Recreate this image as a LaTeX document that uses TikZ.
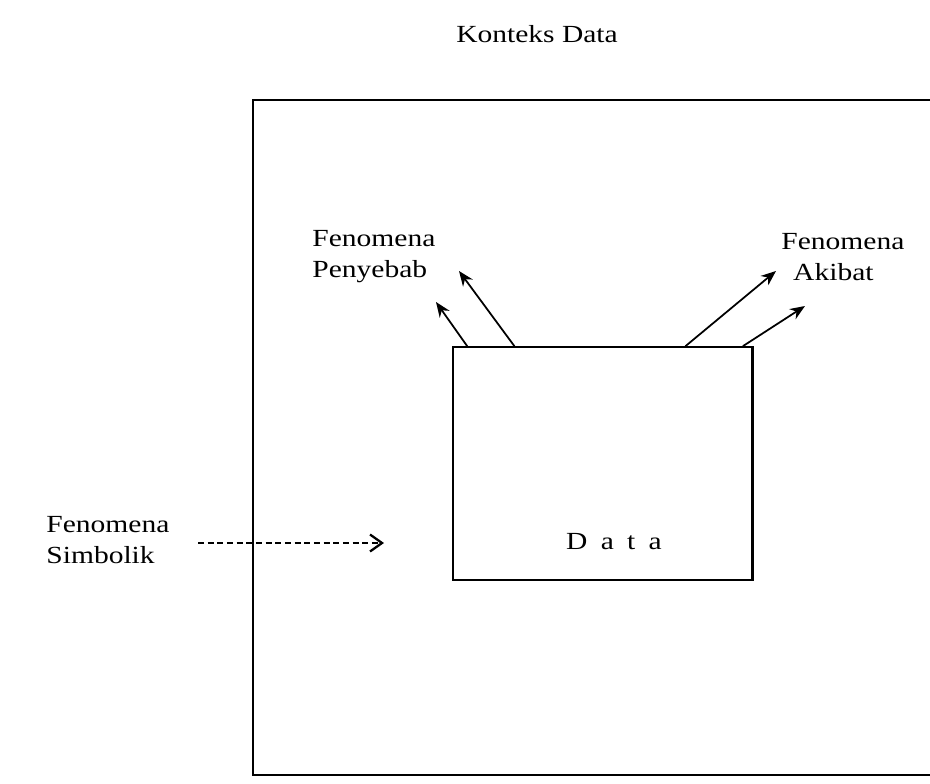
\documentclass[tikz,border=0pt]{standalone}
\usepackage{fontspec}
\setmainfont{Liberation Serif}
\usetikzlibrary{positioning}
\usetikzlibrary{calc}
\usetikzlibrary{arrows.meta}

\begin{document}
\begin{tikzpicture}[x=0.02cm, y=-0.02cm,
    lbl/.style={font=\fontsize{14}{17.6}\selectfont, xscale=1.2, inner sep=0pt, align=left},
    tip/.style={-{Stealth[length=3mm,width=2.4mm]}, line width=1pt}]
    \useasboundingbox (0,0) rectangle (930,784);

    % outer frame, open on the right
    \coordinate (ktl) at (930,100);
    \coordinate (kbl) at (253,775);
    \coordinate (kbr) at (930,775);
    \draw[line width=1.3pt] (ktl) -| (kbl) -- (kbr);

    \node[lbl] (konteks) at (537,34) {Konteks Data};

    % data box
    \node[draw, line width=1pt, minimum width=5.98cm, minimum height=4.66cm, inner sep=0pt] (data) at (602.5,463.5) {};
    \draw[line width=1.5pt] (data.north east) -- (data.south east);
    \node[lbl] (datatext) at (614,542) {D\hspace{0.45em}a\hspace{0.45em}t\hspace{0.45em}a};

    \node[lbl, anchor=west] (penyebab) at (312,257) {Fenomena\\Penyebab};
    \node[lbl, anchor=west] (akibat) at (781,257) {Fenomena\\\hspace{0.4em}Akibat};
    \node[lbl, anchor=west] (simbolik) at (46,540) {Fenomena\\Simbolik};

    \coordinate (p1) at ($(data.north west)!0.05!(data.north east)$);
    \coordinate (p2) at ($(data.north west)!0.207!(data.north east)$);
    \coordinate (a1) at ($(data.north west)!0.776!(data.north east)$);
    \coordinate (a2) at ($(data.north west)!0.967!(data.north east)$);
    \coordinate (p1tip) at (436,302);
    \coordinate (p2tip) at (459,271);
    \coordinate (a1tip) at (776,271);
    \coordinate (a2tip) at (805,306);

    \draw[tip] (p1) -- (p1tip);
    \draw[tip] (p2) -- (p2tip);
    \draw[tip] (a1) -- (a1tip);
    \draw[tip] (a2) -- (a2tip);

    \coordinate (sstart) at (198,543);
    \coordinate (send) at (384,543);
    \draw[line width=0.8pt, dash pattern=on 3.5pt off 2pt, -{Straight Barb[length=2.4mm,width=3.4mm,line width=1.3pt]}] (sstart) -- (send);
\end{tikzpicture}
\end{document}
